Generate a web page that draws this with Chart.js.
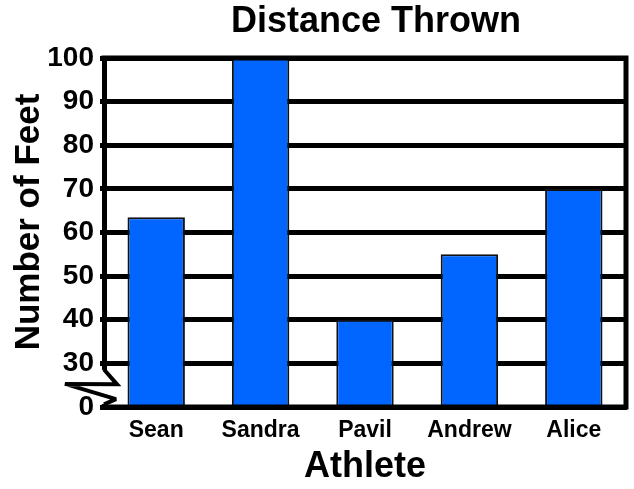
<!DOCTYPE html>
<html>
<head>
<meta charset="utf-8">
<script src="https://cdn.jsdelivr.net/npm/chart.js@4"></script>
<style>
  html, body { margin: 0; padding: 0; background: #fff; }
  canvas { display: block; }
</style>
</head>
<body>
<canvas id="distanceChart" width="634" height="489"></canvas>
<script>
// Chart data
const athletes = ['Sean', 'Sandra', 'Pavil', 'Andrew', 'Alice'];
const feetThrown = [63.5, 100, 40, 55, 70];

// The y axis is broken between 0 and 30: the "0" tick sits one step below 30
const axisBreakValue = 20;
const yTickValues = [20, 30, 40, 50, 60, 70, 80, 90, 100];
const yTickLabels = ['0', '30', '40', '50', '60', '70', '80', '90', '100'];

const FONT = "'Liberation Sans', Arial, sans-serif";

// Titles, outer frame and the zigzag axis break
const framePlugin = {
  id: 'frame',
  afterDatasetsDraw(chart) {
    const { ctx, chartArea: a, scales: { y } } = chart;
    ctx.save();
    ctx.strokeStyle = '#000';
    ctx.lineWidth = 5;
    ctx.lineCap = 'square';
    ctx.beginPath();
    ctx.moveTo(a.left, a.top);
    ctx.lineTo(a.right, a.top);
    ctx.lineTo(a.right, a.bottom);
    ctx.lineTo(a.left, a.bottom);
    ctx.stroke();

    // axis break between 0 and 30
    const y30 = y.getPixelForValue(30);
    const y0 = y.getPixelForValue(axisBreakValue);
    const gap = y0 - y30;
    ctx.fillStyle = '#fff';
    ctx.fillRect(a.left - 4, y30 + gap * 0.15, 8, gap * 0.78);
    ctx.lineWidth = 4;
    ctx.lineCap = 'butt';
    ctx.lineJoin = 'miter';
    ctx.miterLimit = 2.5;
    ctx.beginPath();
    ctx.moveTo(a.left, y30 + gap * 0.14);
    ctx.lineTo(a.left + 13, y30 + gap * 0.48);
    ctx.lineTo(a.left - 39, y30 + gap * 0.47);
    ctx.lineTo(a.left + 12, y30 + gap * 0.82);
    ctx.lineTo(a.left, y30 + gap * 0.94);
    ctx.stroke();
    ctx.restore();
  },
  afterDraw(chart) {
    const { ctx } = chart;
    ctx.save();
    ctx.fillStyle = '#000';
    ctx.textAlign = 'center';
    ctx.textBaseline = 'middle';
    ctx.font = 'bold 36px ' + FONT;
    ctx.fillText('Distance Thrown', 376, 22);
    // y axis title, rotated
    ctx.translate(29, 222);
    ctx.rotate(-Math.PI / 2);
    ctx.font = 'bold 35px ' + FONT;
    ctx.fillText('Number of Feet', 0, 0);
    ctx.restore();
  }
};

new Chart(document.getElementById('distanceChart'), {
  type: 'bar',
  data: {
    labels: athletes,
    datasets: [{
      label: 'Number of Feet',
      data: feetThrown,
      backgroundColor: '#0066ff',
      borderColor: '#111',
      borderWidth: 2,
      barPercentage: 0.55,
      categoryPercentage: 1
    }]
  },
  options: {
    responsive: false,
    animation: false,
    layout: { padding: { top: 58, right: 8, left: 0, bottom: 0 } },
    plugins: {
      legend: { display: false },
      tooltip: { enabled: false }
    },
    scales: {
      x: {
        grid: { display: false, drawTicks: false },
        border: { display: true, color: '#000', width: 5 },
        ticks: {
          color: '#000',
          padding: 10,
          font: { family: FONT, size: 23, weight: 'bold' }
        },
        title: {
          display: true,
          text: 'Athlete',
          color: '#000',
          padding: { top: 0, bottom: 0 },
          font: { family: FONT, size: 36, weight: 'bold' }
        },
        afterFit(scale) { scale.height = 82; }
      },
      y: {
        min: axisBreakValue,
        max: 100,
        grid: { color: '#000', lineWidth: 5, tickLength: 4 },
        border: { display: true, color: '#000', width: 5 },
        afterBuildTicks(scale) {
          scale.ticks = yTickValues.map(v => ({ value: v }));
        },
        ticks: {
          color: '#000',
          padding: 6,
          font: { family: FONT, size: 28, weight: 'bold' },
          callback: (value) => yTickLabels[yTickValues.indexOf(value)]
        },
        afterFit(scale) { scale.width = 104; }
      }
    }
  },
  plugins: [framePlugin]
});
</script>
</body>
</html>
